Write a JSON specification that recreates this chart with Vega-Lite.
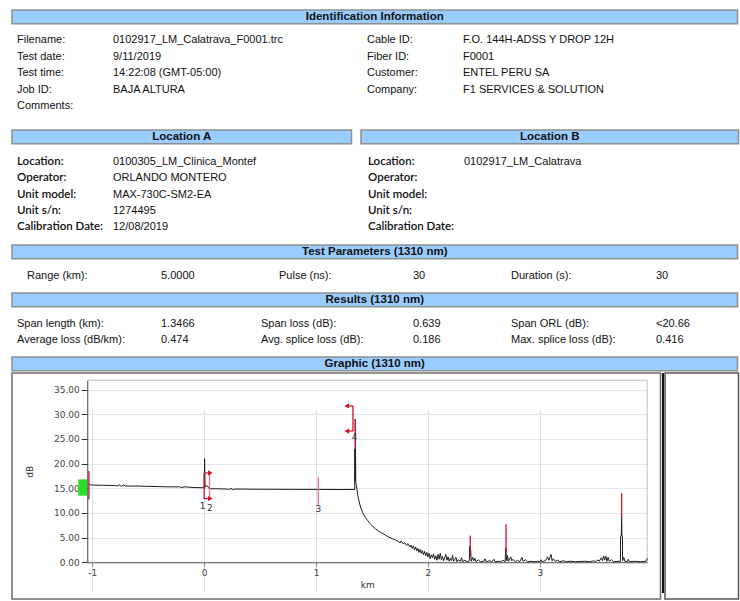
{
"$schema": "https://vega.github.io/schema/vega-lite/v6.json",
"padding": {"left": 11, "top": 9, "right": 0, "bottom": 0},
"background": "white",
"spacing": 0,
"config": {
 "view": {"stroke": null},
 "text": {"align": "left", "baseline": "middle", "font": "Liberation Sans", "fontSize": 11, "color": "#111"},
 "axis": {"labelFlush": false}
},
"datasets": {
 "ident": [
  {"r": 0, "c": 0, "t": "Filename:"}, {"r": 1, "c": 0, "t": "Test date:"}, {"r": 2, "c": 0, "t": "Test time:"}, {"r": 3, "c": 0, "t": "Job ID:"}, {"r": 4, "c": 0, "t": "Comments:"},
  {"r": 0, "c": 1, "t": "0102917_LM_Calatrava_F0001.trc"}, {"r": 1, "c": 1, "t": "9/11/2019"}, {"r": 2, "c": 1, "t": "14:22:08 (GMT-05:00)"}, {"r": 3, "c": 1, "t": "BAJA ALTURA"},
  {"r": 0, "c": 2, "t": "Cable ID:"}, {"r": 1, "c": 2, "t": "Fiber ID:"}, {"r": 2, "c": 2, "t": "Customer:"}, {"r": 3, "c": 2, "t": "Company:"},
  {"r": 0, "c": 3, "t": "F.O. 144H-ADSS Y DROP 12H"}, {"r": 1, "c": 3, "t": "F0001"}, {"r": 2, "c": 3, "t": "ENTEL PERU SA"}, {"r": 3, "c": 3, "t": "F1 SERVICES & SOLUTION"}
 ],
 "locA": [
  {"r": 0, "c": 0, "t": "Location:"}, {"r": 1, "c": 0, "t": "Operator:"}, {"r": 2, "c": 0, "t": "Unit model:"}, {"r": 3, "c": 0, "t": "Unit s/n:"}, {"r": 4, "c": 0, "t": "Calibration Date:"},
  {"r": 0, "c": 1, "t": "0100305_LM_Clinica_Montef"}, {"r": 1, "c": 1, "t": "ORLANDO MONTERO"}, {"r": 2, "c": 1, "t": "MAX-730C-SM2-EA"}, {"r": 3, "c": 1, "t": "1274495"}, {"r": 4, "c": 1, "t": "12/08/2019"}
 ],
 "locB": [
  {"r": 0, "c": 0, "t": "Location:"}, {"r": 1, "c": 0, "t": "Operator:"}, {"r": 2, "c": 0, "t": "Unit model:"}, {"r": 3, "c": 0, "t": "Unit s/n:"}, {"r": 4, "c": 0, "t": "Calibration Date:"},
  {"r": 0, "c": 1, "t": "0102917_LM_Calatrava"}
 ],
 "tp": [
  {"r": 0, "c": 0, "t": "Range (km):"}, {"r": 0, "c": 1, "t": "5.0000"}, {"r": 0, "c": 2, "t": "Pulse (ns):"}, {"r": 0, "c": 3, "t": "30"}, {"r": 0, "c": 4, "t": "Duration (s):"}, {"r": 0, "c": 5, "t": "30"}
 ],
 "res": [
  {"r": 0, "c": 0, "t": "Span length (km):"}, {"r": 0, "c": 1, "t": "1.3466"}, {"r": 0, "c": 2, "t": "Span loss (dB):"}, {"r": 0, "c": 3, "t": "0.639"}, {"r": 0, "c": 4, "t": "Span ORL (dB):"}, {"r": 0, "c": 5, "t": "<20.66"},
  {"r": 1, "c": 0, "t": "Average loss (dB/km):"}, {"r": 1, "c": 1, "t": "0.474"}, {"r": 1, "c": 2, "t": "Avg. splice loss (dB):"}, {"r": 1, "c": 3, "t": "0.186"}, {"r": 1, "c": 4, "t": "Max. splice loss (dB):"}, {"r": 1, "c": 5, "t": "0.416"}
 ],
 "trace": [
  {"km": -1.03, "db": 15.6}, {"km": -1.025, "db": 15.75}, {"km": -1.0, "db": 15.65}, {"km": -0.9, "db": 15.6}, {"km": -0.8, "db": 15.55}, {"km": -0.78, "db": 15.45}, {"km": -0.76, "db": 15.7}, {"km": -0.74, "db": 15.4}, {"km": -0.72, "db": 15.65}, {"km": -0.7, "db": 15.45}, {"km": -0.6, "db": 15.45}, {"km": -0.5, "db": 15.38}, {"km": -0.4, "db": 15.33}, {"km": -0.3, "db": 15.28}, {"km": -0.22, "db": 15.3}, {"km": -0.2, "db": 15.1}, {"km": -0.18, "db": 15.3}, {"km": -0.1, "db": 15.15}, {"km": -0.02, "db": 15.12},
  {"km": 0.0, "db": 15.1}, {"km": 0.004, "db": 21.0}, {"km": 0.008, "db": 15.2}, {"km": 0.02, "db": 15.55}, {"km": 0.03, "db": 15.45}, {"km": 0.045, "db": 14.9}, {"km": 0.1, "db": 14.9}, {"km": 0.2, "db": 14.85}, {"km": 0.22, "db": 14.75}, {"km": 0.24, "db": 14.95}, {"km": 0.26, "db": 14.72}, {"km": 0.28, "db": 14.85}, {"km": 0.5, "db": 14.8}, {"km": 0.8, "db": 14.78}, {"km": 1.0, "db": 14.77}, {"km": 1.2, "db": 14.75}, {"km": 1.345, "db": 14.75},
  {"km": 1.347, "db": 23.0}, {"km": 1.349, "db": 16.4}, {"km": 1.351, "db": 29.0}, {"km": 1.353, "db": 22.0}, {"km": 1.355, "db": 16.3}, {"km": 1.36, "db": 15.6}, {"km": 1.37, "db": 14.0}, {"km": 1.38, "db": 12.8}, {"km": 1.39, "db": 11.8}, {"km": 1.4, "db": 11.0}, {"km": 1.42, "db": 9.9}, {"km": 1.44, "db": 9.1}, {"km": 1.46, "db": 8.5}, {"km": 1.48, "db": 7.9}, {"km": 1.5, "db": 7.4}, {"km": 1.53, "db": 6.8}, {"km": 1.56, "db": 6.3}, {"km": 1.59, "db": 5.9}, {"km": 1.62, "db": 5.5}, {"km": 1.65, "db": 5.1}, {"km": 1.68, "db": 4.8}, {"km": 1.71, "db": 4.5}, {"km": 1.73, "db": 4.3}, {"km": 1.75, "db": 3.9}, {"km": 1.76, "db": 4.3}, {"km": 1.78, "db": 3.7}, {"km": 1.79, "db": 4.0}, {"km": 1.81, "db": 3.4}, {"km": 1.82, "db": 3.8}, {"km": 1.84, "db": 3.1}, {"km": 1.85, "db": 3.5}, {"km": 1.86, "db": 2.8}, {"km": 1.87, "db": 3.3}, {"km": 1.88, "db": 2.5}, {"km": 1.89, "db": 3.1}, {"km": 1.9, "db": 2.3}, {"km": 1.91, "db": 2.8}, {"km": 1.92, "db": 2.0}, {"km": 1.93, "db": 2.6}, {"km": 1.94, "db": 1.8}, {"km": 1.95, "db": 2.4}, {"km": 1.96, "db": 1.5}, {"km": 1.97, "db": 2.2}, {"km": 1.98, "db": 1.3}, {"km": 1.99, "db": 2.0},
  {"km": 2.0, "db": 1.1}, {"km": 2.01, "db": 1.8}, {"km": 2.02, "db": 0.7}, {"km": 2.03, "db": 1.5}, {"km": 2.04, "db": 0.9}, {"km": 2.05, "db": 1.7}, {"km": 2.06, "db": 0.6}, {"km": 2.07, "db": 1.3}, {"km": 2.08, "db": 0.4}, {"km": 2.09, "db": 1.6}, {"km": 2.1, "db": 0.6}, {"km": 2.11, "db": 1.8}, {"km": 2.12, "db": 0.5}, {"km": 2.13, "db": 1.2}, {"km": 2.14, "db": 0.3}, {"km": 2.15, "db": 0.9}, {"km": 2.16, "db": 1.6}, {"km": 2.17, "db": 0.4}, {"km": 2.18, "db": 1.1}, {"km": 2.19, "db": 0.2}, {"km": 2.2, "db": 0.8}, {"km": 2.21, "db": 0.3}, {"km": 2.22, "db": 1.4}, {"km": 2.23, "db": 0.2}, {"km": 2.24, "db": 0.6}, {"km": 2.25, "db": 1.0}, {"km": 2.26, "db": 0.1}, {"km": 2.27, "db": 0.5}, {"km": 2.29, "db": 0.2}, {"km": 2.3, "db": 0.9}, {"km": 2.31, "db": 0.1}, {"km": 2.33, "db": 0.4}, {"km": 2.35, "db": 0.1}, {"km": 2.37, "db": 0.3}, {"km": 2.374, "db": 3.2}, {"km": 2.378, "db": 1.4}, {"km": 2.382, "db": 2.4}, {"km": 2.386, "db": 0.2}, {"km": 2.4, "db": 1.0}, {"km": 2.41, "db": 0.3}, {"km": 2.42, "db": 0.8}, {"km": 2.43, "db": 0.1}, {"km": 2.45, "db": 0.5}, {"km": 2.47, "db": 0.1}, {"km": 2.5, "db": 0.2}, {"km": 2.51, "db": 0.7}, {"km": 2.52, "db": 0.1}, {"km": 2.55, "db": 0.3}, {"km": 2.57, "db": 0.1}, {"km": 2.59, "db": 0.6}, {"km": 2.6, "db": 0.1}, {"km": 2.63, "db": 0.2}, {"km": 2.65, "db": 0.1}, {"km": 2.67, "db": 0.4}, {"km": 2.69, "db": 0.1}, {"km": 2.695, "db": 2.8}, {"km": 2.7, "db": 1.2}, {"km": 2.705, "db": 0.3}, {"km": 2.71, "db": 1.4}, {"km": 2.72, "db": 0.2}, {"km": 2.74, "db": 1.1}, {"km": 2.75, "db": 0.3}, {"km": 2.76, "db": 0.6}, {"km": 2.78, "db": 0.1}, {"km": 2.8, "db": 0.4}, {"km": 2.82, "db": 0.1}, {"km": 2.84, "db": 1.0}, {"km": 2.85, "db": 0.2}, {"km": 2.87, "db": 0.5}, {"km": 2.89, "db": 0.1}, {"km": 2.92, "db": 0.2}, {"km": 2.95, "db": 0.1}, {"km": 2.98, "db": 0.2},
  {"km": 3.0, "db": 0.1}, {"km": 3.01, "db": 0.5}, {"km": 3.02, "db": 0.1}, {"km": 3.05, "db": 0.3}, {"km": 3.07, "db": 1.1}, {"km": 3.08, "db": 0.4}, {"km": 3.09, "db": 0.9}, {"km": 3.1, "db": 1.6}, {"km": 3.11, "db": 0.3}, {"km": 3.12, "db": 0.7}, {"km": 3.14, "db": 0.2}, {"km": 3.16, "db": 0.4}, {"km": 3.18, "db": 0.1}, {"km": 3.21, "db": 0.3}, {"km": 3.24, "db": 0.1}, {"km": 3.27, "db": 0.2}, {"km": 3.32, "db": 0.1}, {"km": 3.4, "db": 0.2}, {"km": 3.45, "db": 0.1}, {"km": 3.48, "db": 0.3}, {"km": 3.5, "db": 0.1}, {"km": 3.52, "db": 0.5}, {"km": 3.53, "db": 0.2}, {"km": 3.55, "db": 0.9}, {"km": 3.56, "db": 0.3}, {"km": 3.57, "db": 1.3}, {"km": 3.58, "db": 0.5}, {"km": 3.59, "db": 1.2}, {"km": 3.6, "db": 0.2}, {"km": 3.61, "db": 1.0}, {"km": 3.62, "db": 0.2}, {"km": 3.64, "db": 0.5}, {"km": 3.66, "db": 0.1}, {"km": 3.7, "db": 0.2}, {"km": 3.72, "db": 0.1}, {"km": 3.722, "db": 5.3}, {"km": 3.728, "db": 5.3}, {"km": 3.731, "db": 9.2}, {"km": 3.734, "db": 5.3}, {"km": 3.738, "db": 5.3}, {"km": 3.74, "db": 0.3}, {"km": 3.75, "db": 1.0}, {"km": 3.76, "db": 0.2}, {"km": 3.78, "db": 0.1}, {"km": 3.79, "db": 0.6}, {"km": 3.8, "db": 0.1}, {"km": 3.85, "db": 0.2}, {"km": 3.9, "db": 0.1}, {"km": 3.95, "db": 0.2}, {"km": 3.96, "db": 0.8}
 ],
 "markers": [
  {"km": -1.03, "db": 12.7, "db2": 18.5, "role": "event"},
  {"km": 0.0, "db": 12.8, "db2": 18.1, "role": "event"},
  {"km": 0.048, "db": 13.0, "db2": 18.1, "role": "section"},
  {"km": 1.02, "db": 11.5, "db2": 17.3, "role": "section"},
  {"km": 1.33, "db": 26.6, "db2": 31.7, "role": "event"},
  {"km": 1.351, "db": 23.5, "db2": 29.0, "role": "event"},
  {"km": 2.378, "db": 1.0, "db2": 5.4, "role": "event"},
  {"km": 2.698, "db": 2.0, "db2": 7.7, "role": "event"},
  {"km": 3.731, "db": 9.0, "db2": 14.0, "role": "event"}
 ],
 "brackets": [
  {"km": 0.0, "km2": 0.05, "db": 18.1},
  {"km": 0.0, "km2": 0.05, "db": 12.9},
  {"km": 1.28, "km2": 1.33, "db": 31.7},
  {"km": 1.28, "km2": 1.33, "db": 26.6}
 ],
 "arrows": [
  {"km": 0.055, "db": 18.1, "dir": "right"},
  {"km": 0.055, "db": 12.9, "dir": "right"},
  {"km": 1.275, "db": 31.7, "dir": "left"},
  {"km": 1.275, "db": 26.6, "dir": "left"}
 ],
 "labels": [
  {"km": -0.015, "db": 11.4, "label": "1"},
  {"km": 0.05, "db": 11.1, "label": "2"},
  {"km": 1.02, "db": 10.8, "label": "3"},
  {"km": 1.345, "db": 25.3, "label": "4"}
 ],
 "frame": [
  {"km": -1.045, "km2": 3.96, "db": 36.9, "db2": 36.9},
  {"km": 3.96, "km2": 3.96, "db": 0, "db2": 36.9}
 ],
 "launch": [
  {"km": -1.125, "km2": -1.046, "db": 13.5, "db2": 16.8}
 ]
},
"vconcat": [
 {"width": 725.5, "height": 13.75, "view": {"fill": "#99ccff", "stroke": "#8f8f8f", "strokeWidth": 1.5},
  "data": {"values": [{"t": "Identification Information"}]},
  "mark": {"type": "text", "align": "center", "fontWeight": "bold", "fontSize": 11.5},
  "encoding": {"text": {"field": "t"}}},
 {"width": 727, "height": 104,
  "data": {"name": "ident"},
  "encoding": {"y": {"field": "r", "type": "ordinal", "scale": {"type": "point", "domain": [0, 1, 2, 3, 4], "range": [15, 81], "padding": 0}, "axis": null}, "text": {"field": "t"}},
  "layer": [
   {"transform": [{"filter": "datum.c == 0"}], "mark": "text", "encoding": {"x": {"value": 5}}},
   {"transform": [{"filter": "datum.c == 1"}], "mark": "text", "encoding": {"x": {"value": 101}}},
   {"transform": [{"filter": "datum.c == 2"}], "mark": "text", "encoding": {"x": {"value": 355}}},
   {"transform": [{"filter": "datum.c == 3"}], "mark": "text", "encoding": {"x": {"value": 451}}}
  ]},
 {"hconcat": [
   {"vconcat": [
     {"width": 339.5, "height": 13.75, "view": {"fill": "#99ccff", "stroke": "#8f8f8f", "strokeWidth": 1.5},
      "data": {"values": [{"t": "Location A"}]},
      "mark": {"type": "text", "align": "center", "fontWeight": "bold", "fontSize": 11.5},
      "encoding": {"text": {"field": "t"}}},
     {"width": 341, "height": 99,
      "data": {"name": "locA"},
      "encoding": {"y": {"field": "r", "type": "ordinal", "scale": {"type": "point", "domain": [0, 1, 2, 3, 4], "range": [17, 82], "padding": 0}, "axis": null}, "text": {"field": "t"}},
      "layer": [
       {"transform": [{"filter": "datum.c == 0"}], "mark": {"type": "text", "font": "Lato", "fontWeight": 600, "fontSize": 11.5}, "encoding": {"x": {"value": 5}}},
       {"transform": [{"filter": "datum.c == 1"}], "mark": "text", "encoding": {"x": {"value": 101}}}
      ]}
    ], "spacing": 0},
   {"vconcat": [
     {"width": 377.5, "height": 13.75, "view": {"fill": "#99ccff", "stroke": "#8f8f8f", "strokeWidth": 1.5},
      "data": {"values": [{"t": "Location B"}]},
      "mark": {"type": "text", "align": "center", "fontWeight": "bold", "fontSize": 11.5},
      "encoding": {"text": {"field": "t"}}},
     {"width": 379, "height": 99,
      "data": {"name": "locB"},
      "encoding": {"y": {"field": "r", "type": "ordinal", "scale": {"type": "point", "domain": [0, 1, 2, 3, 4], "range": [17, 82], "padding": 0}, "axis": null}, "text": {"field": "t"}},
      "layer": [
       {"transform": [{"filter": "datum.c == 0"}], "mark": {"type": "text", "font": "Lato", "fontWeight": 600, "fontSize": 11.5}, "encoding": {"x": {"value": 7}}},
       {"transform": [{"filter": "datum.c == 1"}], "mark": "text", "encoding": {"x": {"value": 103}}}
      ]}
    ], "spacing": 0}
  ], "spacing": 7},
 {"width": 725.5, "height": 13.75, "view": {"fill": "#99ccff", "stroke": "#8f8f8f", "strokeWidth": 1.5},
  "data": {"values": [{"t": "Test Parameters (1310 nm)"}]},
  "mark": {"type": "text", "align": "center", "fontWeight": "bold", "fontSize": 11.5},
  "encoding": {"text": {"field": "t"}}},
 {"width": 727, "height": 32,
  "data": {"name": "tp"},
  "encoding": {"text": {"field": "t"}},
  "layer": [
   {"transform": [{"filter": "datum.c == 0"}], "mark": "text", "encoding": {"x": {"value": 15}}},
   {"transform": [{"filter": "datum.c == 1"}], "mark": "text", "encoding": {"x": {"value": 149}}},
   {"transform": [{"filter": "datum.c == 2"}], "mark": "text", "encoding": {"x": {"value": 267}}},
   {"transform": [{"filter": "datum.c == 3"}], "mark": "text", "encoding": {"x": {"value": 401}}},
   {"transform": [{"filter": "datum.c == 4"}], "mark": "text", "encoding": {"x": {"value": 499}}},
   {"transform": [{"filter": "datum.c == 5"}], "mark": "text", "encoding": {"x": {"value": 644}}}
  ]},
 {"width": 725.5, "height": 13.75, "view": {"fill": "#99ccff", "stroke": "#8f8f8f", "strokeWidth": 1.5},
  "data": {"values": [{"t": "Results (1310 nm)"}]},
  "mark": {"type": "text", "align": "center", "fontWeight": "bold", "fontSize": 11.5},
  "encoding": {"text": {"field": "t"}}},
 {"width": 727, "height": 48,
  "data": {"name": "res"},
  "encoding": {"y": {"field": "r", "type": "ordinal", "scale": {"type": "point", "domain": [0, 1], "range": [16, 32], "padding": 0}, "axis": null}, "text": {"field": "t"}},
  "layer": [
   {"transform": [{"filter": "datum.c == 0"}], "mark": "text", "encoding": {"x": {"value": 5}}},
   {"transform": [{"filter": "datum.c == 1"}], "mark": "text", "encoding": {"x": {"value": 149}}},
   {"transform": [{"filter": "datum.c == 2"}], "mark": "text", "encoding": {"x": {"value": 249}}},
   {"transform": [{"filter": "datum.c == 3"}], "mark": "text", "encoding": {"x": {"value": 401}}},
   {"transform": [{"filter": "datum.c == 4"}], "mark": "text", "encoding": {"x": {"value": 499}}},
   {"transform": [{"filter": "datum.c == 5"}], "mark": "text", "encoding": {"x": {"value": 644}}}
  ]},
 {"width": 725.5, "height": 13.75, "view": {"fill": "#99ccff", "stroke": "#8f8f8f", "strokeWidth": 1.5},
  "data": {"values": [{"t": "Graphic (1310 nm)"}]},
  "mark": {"type": "text", "align": "center", "fontWeight": "bold", "fontSize": 11.5},
  "encoding": {"text": {"field": "t"}}},
 {"hconcat": [
   {"width": 648.5, "height": 226,
    "view": {"fill": "white", "stroke": "#6e6e6e", "strokeWidth": 1.5},
    "encoding": {
     "x": {"field": "km", "type": "quantitative",
       "scale": {"domain": [-1.045, 3.96], "range": [75.25, 635.25], "nice": false, "zero": false},
       "axis": {"values": [-1, 0, 1, 2, 3], "format": "d", "labelExpr": "replace(datum.label, '\u2212', '-')", "offset": -36.75, "grid": true, "gridColor": "#d5e1ec", "gridWidth": 1, "domainColor": "#555", "domainWidth": 1, "tickColor": "#888", "tickSize": 4, "labelFont": "DejaVu Sans", "labelFontSize": 9, "labelColor": "#444", "labelPadding": 2, "title": "km", "titleFont": "DejaVu Sans", "titleFontSize": 9, "titleFontWeight": "normal", "titleColor": "#333", "titlePadding": 3}},
     "y": {"field": "db", "type": "quantitative",
       "scale": {"domain": [0, 36.9], "range": [189.25, 7.25], "nice": false, "zero": false},
       "axis": {"values": [0, 5, 10, 15, 20, 25, 30, 35], "format": ".2f", "offset": -75.25, "grid": true, "gridColor": "#dfe7ef", "gridWidth": 1, "domainColor": "#444", "domainWidth": 1, "tickColor": "#333", "tickSize": 6, "labelFont": "DejaVu Sans", "labelFontSize": 9, "labelColor": "#444", "labelPadding": 2, "title": "dB", "titleFont": "DejaVu Sans", "titleFontSize": 9, "titleFontWeight": "normal", "titleColor": "#333", "titlePadding": 19}}
    },
    "layer": [
     {"data": {"name": "frame"}, "mark": {"type": "rule", "color": "#c2c2c2", "strokeWidth": 1}, "encoding": {"x2": {"field": "km2"}, "y2": {"field": "db2"}}},
     {"data": {"name": "launch"}, "mark": {"type": "rect", "color": "#28e028"}, "encoding": {"x2": {"field": "km2"}, "y2": {"field": "db2"}}},
     {"data": {"name": "trace"}, "mark": {"type": "line", "color": "#1e1e1e", "strokeWidth": 1}},
     {"data": {"name": "markers"}, "mark": {"type": "rule", "strokeWidth": 1.3}, "encoding": {"y2": {"field": "db2"}, "color": {"field": "role", "type": "nominal", "scale": {"domain": ["event", "section"], "range": ["#c8102e", "#e2738c"]}, "legend": null}}},
     {"data": {"name": "brackets"}, "mark": {"type": "rule", "color": "#c8102e", "strokeWidth": 1.2}, "encoding": {"x2": {"field": "km2"}}},
     {"data": {"name": "arrows"}, "mark": {"type": "point", "filled": true, "color": "#d0101e", "size": 28, "opacity": 1}, "encoding": {"shape": {"field": "dir", "type": "nominal", "scale": {"domain": ["right", "left"], "range": ["triangle-right", "triangle-left"]}, "legend": null}}},
     {"data": {"name": "labels"}, "mark": {"type": "text", "align": "center", "font": "DejaVu Sans", "fontSize": 9, "color": "#333"}, "encoding": {"text": {"field": "label"}}}
    ]},
   {"width": 2, "height": 220, "view": {"fill": "#111111", "stroke": null}, "data": {"values": []}, "mark": "point"},
   {"width": 73.5, "height": 226, "view": {"fill": "white", "stroke": "#555555", "strokeWidth": 1.5}, "data": {"values": []}, "mark": "point"}
  ], "spacing": 0}
]
}
